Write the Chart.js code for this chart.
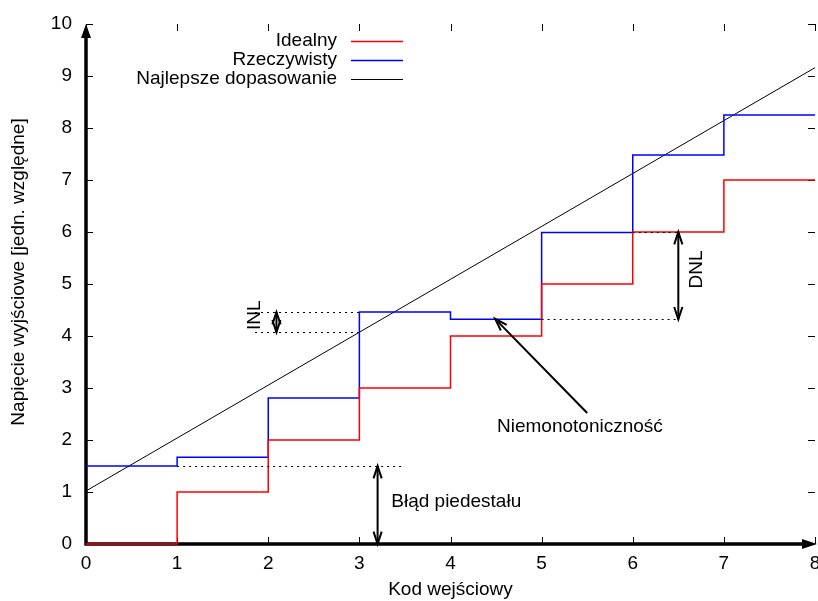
<!DOCTYPE html>
<html>
<head>
<meta charset="utf-8">
<script src="https://cdn.jsdelivr.net/npm/chart.js@4.4.1/dist/chart.umd.min.js"></script>
<style>
  html, body { margin: 0; padding: 0; background: #fff; }
  #wrap { width: 818px; height: 601px; }
</style>
</head>
<body>
<div id="wrap"><canvas id="dacChart" width="818" height="601"></canvas></div>
<script>
// input codes and output levels
const codes = [0, 1, 2, 3, 4, 5, 6, 7, 8];
const idealLevels = [0, 1, 2, 3, 4, 5, 6, 7, 7];
const realLevels = [1.5, 1.67, 2.81, 4.46, 4.32, 5.99, 7.48, 8.25, 8.25];
const fitCodes = [0, 8];
const fitLevels = [1.02, 9.16];

const seriesNames = ["Idealny", "Rzeczywisty", "Najlepsze dopasowanie"];
const xTicks = [0, 1, 2, 3, 4, 5, 6, 7, 8];
const yTicks = [0, 1, 2, 3, 4, 5, 6, 7, 8, 9, 10];

// annotation marks in data units
const dottedLines = [
    [1, 1.5, 3.5, 1.5],        // pedestal
    [1.855, 4.46, 3, 4.46],    // INL top
    [1.855, 4.07, 3, 4.07],    // INL bottom
    [6, 6, 6.5, 6],            // DNL top
    [5, 4.32, 6.5, 4.32]       // DNL bottom
];
const doubleArrows = [
    [3.2, 0, 3.2, 1.5],
    [2.09, 4.07, 2.09, 4.46],
    [6.5, 4.32, 6.5, 6]
];
const singleArrows = [
    [5.5, 2.52, 4.49, 4.33]
];
const notes = [
    { text: "Błąd piedestału", x: 3.35, y: 0.82, align: "left", rot: 0 },
    { text: "Niemonotoniczność", x: 5.42, y: 2.25, align: "center", rot: 0 },
    { text: "INL", x: 1.855, y: 4.40, align: "center", rot: -Math.PI / 2 },
    { text: "DNL", x: 6.70, y: 5.28, align: "center", rot: -Math.PI / 2 }
];

const FONT = "19px 'Liberation Sans', Arial, sans-serif";
Chart.defaults.font.family = "'Liberation Sans', Arial, sans-serif";
Chart.defaults.font.size = 19;
Chart.defaults.color = '#000';

function toPoints(xs, ys) {
    return xs.map((v, i) => ({ x: v, y: ys[i] }));
}

function drawHead(ctx, x1, y1, x2, y2) {
    // open V head at (x2, y2)
    const ang = Math.atan2(y2 - y1, x2 - x1);
    const len = 13, spread = 0.32;
    ctx.beginPath();
    ctx.moveTo(x2 - len * Math.cos(ang - spread), y2 - len * Math.sin(ang - spread));
    ctx.lineTo(x2, y2);
    ctx.lineTo(x2 - len * Math.cos(ang + spread), y2 - len * Math.sin(ang + spread));
    ctx.stroke();
}

const axesLayer = {
    id: 'axesLayer',
    beforeDatasetsDraw(chart) {
        const { ctx, chartArea: a } = chart;
        const xs = chart.scales.x, ys = chart.scales.y;
        ctx.save();
        // tick marks on all four sides
        ctx.strokeStyle = '#000';
        ctx.lineWidth = 1;
        ctx.beginPath();
        yTicks.forEach(t => {
            const y = Math.round(ys.getPixelForValue(t)) + 0.5;
            ctx.moveTo(a.left, y); ctx.lineTo(a.left + 7, y);
            ctx.moveTo(a.right, y); ctx.lineTo(a.right - 7, y);
        });
        xTicks.forEach(t => {
            const x = Math.round(xs.getPixelForValue(t)) + 0.5;
            ctx.moveTo(x, a.bottom); ctx.lineTo(x, a.bottom - 7);
            ctx.moveTo(x, a.top); ctx.lineTo(x, a.top + 7);
        });
        ctx.stroke();

        // axes with arrows
        ctx.lineWidth = 3.5;
        ctx.beginPath();
        ctx.moveTo(a.left, a.bottom + 1.5);
        ctx.lineTo(a.left, a.top + 12);
        ctx.moveTo(a.left - 1.5, a.bottom);
        ctx.lineTo(a.right - 12, a.bottom);
        ctx.stroke();
        ctx.fillStyle = '#000';
        ctx.beginPath();
        ctx.moveTo(a.left, a.top);
        ctx.lineTo(a.left - 5, a.top + 14);
        ctx.lineTo(a.left + 5, a.top + 14);
        ctx.closePath();
        ctx.fill();
        ctx.beginPath();
        ctx.moveTo(a.right + 2, a.bottom);
        ctx.lineTo(a.right - 13, a.bottom - 5);
        ctx.lineTo(a.right - 13, a.bottom + 5);
        ctx.closePath();
        ctx.fill();
        ctx.restore();
    }
};

const overlay = {
    id: 'overlay',
    afterDatasetsDraw(chart) {
        const { ctx, chartArea: a } = chart;
        const xs = chart.scales.x, ys = chart.scales.y;
        const px = v => xs.getPixelForValue(v);
        const py = v => ys.getPixelForValue(v);
        ctx.save();
        ctx.strokeStyle = '#000';

        // dotted guide lines
        ctx.lineWidth = 1;
        ctx.setLineDash([2, 4]);
        ctx.beginPath();
        dottedLines.forEach(([x1, y1, x2, y2]) => {
            ctx.moveTo(px(x1), Math.round(py(y1)) + 0.5);
            ctx.lineTo(px(x2), Math.round(py(y2)) + 0.5);
        });
        ctx.stroke();
        ctx.setLineDash([]);

        // arrows
        ctx.lineWidth = 2;
        doubleArrows.forEach(([x1, y1, x2, y2]) => {
            const X1 = px(x1), Y1 = py(y1), X2 = px(x2), Y2 = py(y2);
            ctx.beginPath(); ctx.moveTo(X1, Y1); ctx.lineTo(X2, Y2); ctx.stroke();
            drawHead(ctx, X1, Y1, X2, Y2);
            drawHead(ctx, X2, Y2, X1, Y1);
        });
        singleArrows.forEach(([x1, y1, x2, y2]) => {
            const X1 = px(x1), Y1 = py(y1), X2 = px(x2), Y2 = py(y2);
            ctx.beginPath(); ctx.moveTo(X1, Y1); ctx.lineTo(X2, Y2); ctx.stroke();
            drawHead(ctx, X1, Y1, X2, Y2);
        });

        // text notes
        ctx.font = FONT;
        ctx.fillStyle = '#000';
        ctx.textBaseline = 'middle';
        notes.forEach(n => {
            ctx.save();
            ctx.translate(px(n.x), py(n.y));
            ctx.rotate(n.rot);
            ctx.textAlign = n.align;
            ctx.fillText(n.text, 0, 0);
            ctx.restore();
        });

        // legend, gnuplot style: text right-aligned, sample line after it
        const rowsY = [41, 60, 79];
        chart.data.datasets.forEach((ds, i) => {
            ctx.textAlign = 'right';
            ctx.fillStyle = '#000';
            ctx.fillText(ds.label, 337, rowsY[i]);
            ctx.strokeStyle = ds.borderColor;
            ctx.lineWidth = ds.borderWidth;
            ctx.beginPath();
            ctx.moveTo(351, rowsY[i] + 0.5);
            ctx.lineTo(403, rowsY[i] + 0.5);
            ctx.stroke();
        });

        // axis titles
        ctx.textAlign = 'center';
        ctx.fillText("Kod wejściowy", (a.left + a.right) / 2, 590);
        ctx.save();
        ctx.translate(19, 272);
        ctx.rotate(-Math.PI / 2);
        ctx.fillText("Napięcie wyjściowe [jedn. względne]", 0, 0);
        ctx.restore();

        ctx.restore();
    }
};

const ctx = document.getElementById('dacChart').getContext('2d');
new Chart(ctx, {
    type: 'line',
    data: {
        datasets: [{
            label: seriesNames[0],
            data: toPoints(codes, idealLevels),
            borderColor: 'rgb(255, 0, 0)',
            borderWidth: 1.5,
            pointRadius: 0,
            stepped: true,
            fill: false,
            clip: 3
        }, {
            label: seriesNames[1],
            data: toPoints(codes, realLevels),
            borderColor: 'rgb(0, 0, 255)',
            borderWidth: 1.5,
            pointRadius: 0,
            stepped: true,
            fill: false
        }, {
            label: seriesNames[2],
            data: toPoints(fitCodes, fitLevels),
            borderColor: 'rgb(0, 0, 0)',
            borderWidth: 1,
            pointRadius: 0,
            fill: false
        }]
    },
    options: {
        responsive: false,
        animation: false,
        layout: { padding: { left: 0, right: 3, top: 24, bottom: 0 } },
        plugins: {
            legend: { display: false },
            tooltip: { enabled: false }
        },
        scales: {
            x: {
                type: 'linear',
                min: 0,
                max: 8,
                afterFit: s => { s.height = 57; s.paddingLeft = 0; s.paddingRight = 0; },
                grid: { display: false, drawTicks: false },
                border: { display: false },
                ticks: {
                    stepSize: 1,
                    padding: 8,
                    maxRotation: 0,
                    autoSkip: false,
                    color: '#000'
                }
            },
            y: {
                min: 0,
                max: 10,
                afterFit: s => { s.width = 86; s.paddingTop = 0; s.paddingBottom = 0; },
                grid: { display: false, drawTicks: false },
                border: { display: false },
                ticks: {
                    stepSize: 1,
                    padding: 14,
                    color: '#000'
                }
            }
        }
    },
    plugins: [axesLayer, overlay]
});
</script>
</body>
</html>
